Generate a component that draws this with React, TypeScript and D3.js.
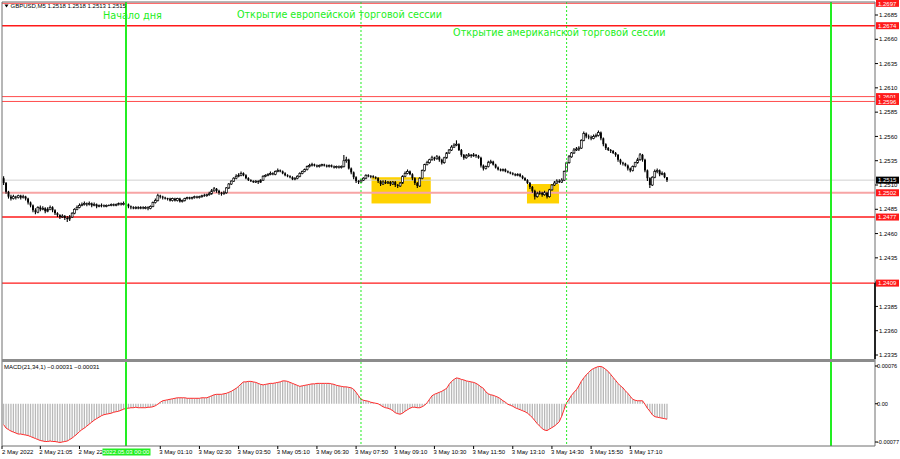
import React from 'react';
import * as d3 from 'd3';

const symbol = 'GBPUSD,M5';
const firstOpen = 1.2517;

const closes = [
  1.2512,1.2503,1.2498,1.2496,1.2498,1.2497,1.2499,1.2497,1.2498,1.2496,
  1.2492,1.2489,1.2484,1.2482,1.2487,1.2485,1.2486,1.2483,1.2485,1.2487,
  1.2484,1.2481,1.2479,1.2477,1.2478,1.2476,1.2475,1.2477,1.2481,1.2485,
  1.2487,1.2489,1.2490,1.2491,1.2490,1.2491,1.2489,1.2490,1.2488,1.2489,
  1.2489,1.2488,1.2489,1.2489,1.2490,1.2489,1.2490,1.2491,1.2490,1.2491,
  1.2490,1.2488,1.2487,1.2486,1.2487,1.2486,1.2487,1.2486,1.2487,1.2486,
  1.2488,1.2492,1.2494,1.2499,1.2498,1.2497,1.2496,1.2496,1.2494,1.2496,
  1.2494,1.2496,1.2493,1.2494,1.2496,1.2497,1.2496,1.2497,1.2498,1.2497,
  1.2498,1.2499,1.2499,1.2500,1.2501,1.2504,1.2506,1.2504,1.2502,1.2501,
  1.2502,1.2507,1.2511,1.2514,1.2517,1.2519,1.2520,1.2522,1.2520,1.2517,
  1.2515,1.2514,1.2513,1.2514,1.2513,1.2515,1.2519,1.2520,1.2521,1.2522,
  1.2521,1.2524,1.2525,1.2524,1.2522,1.2520,1.2519,1.2518,1.2516,1.2517,
  1.2519,1.2522,1.2524,1.2526,1.2529,1.2530,1.2531,1.2530,1.2529,1.2530,
  1.2531,1.2530,1.2529,1.2530,1.2529,1.2528,1.2529,1.2528,1.2529,1.2535,
  1.2536,1.2527,1.2523,1.2518,1.2514,1.2513,1.2515,1.2517,1.2520,1.2519,
  1.2519,1.2518,1.2517,1.2514,1.2511,1.2513,1.2512,1.2513,1.2511,1.2513,
  1.2510,1.2509,1.2512,1.2519,1.2522,1.2524,1.2521,1.2517,1.2512,1.2509,
  1.2517,1.2525,1.2531,1.2533,1.2536,1.2538,1.2537,1.2539,1.2536,1.2533,
  1.2538,1.2543,1.2546,1.2549,1.2551,1.2552,1.2546,1.2541,1.2538,1.2540,
  1.2541,1.2540,1.2541,1.2540,1.2538,1.2530,1.2527,1.2529,1.2533,1.2534,
  1.2531,1.2528,1.2526,1.2525,1.2526,1.2524,1.2523,1.2522,1.2521,1.2520,
  1.2521,1.2519,1.2517,1.2515,1.2512,1.2508,1.2504,1.2498,1.2501,1.2502,
  1.2500,1.2502,1.2498,1.2505,1.2510,1.2512,1.2514,1.2513,1.2515,1.2524,
  1.2533,1.2539,1.2543,1.2546,1.2547,1.2548,1.2556,1.2563,1.2560,1.2559,
  1.2558,1.2560,1.2561,1.2564,1.2558,1.2552,1.2548,1.2546,1.2545,1.2543,
  1.2541,1.2536,1.2533,1.2532,1.2530,1.2527,1.2525,1.2529,1.2533,1.2536,
  1.2541,1.2536,1.2525,1.2517,1.2510,1.2518,1.2524,1.2525,1.2521,1.2522,
  1.2518,1.2515,
];

const highs = [
  1.2519,1.2513,1.2504,1.2500,1.2500,1.2499,1.2500,1.2500,1.2500,1.2499,
  1.2497,1.2493,1.2490,1.2486,1.2488,1.2489,1.2488,1.2487,1.2487,1.2489,
  1.2488,1.2485,1.2482,1.2480,1.2480,1.2479,1.2478,1.2479,1.2482,1.2486,
  1.2489,1.2491,1.2492,1.2493,1.2492,1.2493,1.2492,1.2492,1.2491,1.2490,
  1.2491,1.2490,1.2490,1.2490,1.2491,1.2491,1.2491,1.2492,1.2492,1.2493,
  1.2492,1.2491,1.2489,1.2488,1.2488,1.2488,1.2488,1.2488,1.2488,1.2488,
  1.2489,1.2493,1.2496,1.2501,1.2500,1.2499,1.2498,1.2497,1.2497,1.2497,
  1.2497,1.2497,1.2497,1.2495,1.2497,1.2498,1.2498,1.2498,1.2499,1.2499,
  1.2499,1.2500,1.2501,1.2501,1.2503,1.2506,1.2508,1.2507,1.2505,1.2503,
  1.2504,1.2508,1.2512,1.2515,1.2518,1.2521,1.2522,1.2524,1.2523,1.2521,
  1.2518,1.2516,1.2515,1.2515,1.2515,1.2516,1.2520,1.2521,1.2522,1.2524,
  1.2523,1.2525,1.2527,1.2526,1.2525,1.2523,1.2521,1.2520,1.2519,1.2518,
  1.2520,1.2523,1.2525,1.2527,1.2530,1.2532,1.2533,1.2532,1.2531,1.2531,
  1.2532,1.2532,1.2531,1.2531,1.2531,1.2530,1.2530,1.2530,1.2530,1.2541,
  1.2539,1.2537,1.2528,1.2524,1.2519,1.2515,1.2516,1.2518,1.2521,1.2521,
  1.2520,1.2520,1.2519,1.2518,1.2515,1.2515,1.2515,1.2514,1.2514,1.2514,
  1.2514,1.2511,1.2513,1.2520,1.2524,1.2526,1.2525,1.2522,1.2518,1.2513,
  1.2518,1.2526,1.2532,1.2535,1.2537,1.2540,1.2539,1.2541,1.2540,1.2537,
  1.2539,1.2544,1.2547,1.2551,1.2553,1.2556,1.2553,1.2547,1.2542,1.2542,
  1.2543,1.2542,1.2543,1.2542,1.2541,1.2539,1.2531,1.2530,1.2535,1.2536,
  1.2535,1.2532,1.2529,1.2527,1.2527,1.2527,1.2525,1.2524,1.2523,1.2522,
  1.2522,1.2522,1.2520,1.2518,1.2516,1.2513,1.2509,1.2505,1.2503,1.2504,
  1.2503,1.2504,1.2503,1.2506,1.2511,1.2514,1.2516,1.2516,1.2517,1.2525,
  1.2534,1.2541,1.2544,1.2548,1.2549,1.2550,1.2557,1.2565,1.2564,1.2562,
  1.2561,1.2562,1.2563,1.2566,1.2565,1.2559,1.2553,1.2549,1.2547,1.2546,
  1.2544,1.2542,1.2537,1.2534,1.2533,1.2531,1.2528,1.2530,1.2534,1.2538,
  1.2543,1.2542,1.2537,1.2526,1.2518,1.2519,1.2526,1.2527,1.2526,1.2524,
  1.2523,1.2518,
];

const lows = [
  1.2510,1.2501,1.2496,1.2494,1.2495,1.2495,1.2496,1.2495,1.2496,1.2494,
  1.2490,1.2487,1.2482,1.2480,1.2481,1.2483,1.2484,1.2481,1.2482,1.2484,
  1.2482,1.2479,1.2477,1.2475,1.2476,1.2474,1.2472,1.2473,1.2476,1.2480,
  1.2484,1.2486,1.2488,1.2489,1.2488,1.2489,1.2487,1.2488,1.2486,1.2487,
  1.2487,1.2487,1.2487,1.2488,1.2488,1.2488,1.2488,1.2489,1.2489,1.2489,
  1.2488,1.2486,1.2485,1.2485,1.2485,1.2485,1.2485,1.2485,1.2485,1.2484,
  1.2485,1.2487,1.2491,1.2493,1.2496,1.2495,1.2495,1.2494,1.2493,1.2493,
  1.2493,1.2493,1.2492,1.2492,1.2493,1.2495,1.2495,1.2495,1.2496,1.2496,
  1.2496,1.2497,1.2498,1.2498,1.2499,1.2500,1.2503,1.2502,1.2500,1.2499,
  1.2500,1.2501,1.2506,1.2510,1.2513,1.2516,1.2518,1.2519,1.2519,1.2516,
  1.2514,1.2513,1.2512,1.2512,1.2511,1.2512,1.2514,1.2518,1.2519,1.2520,
  1.2520,1.2520,1.2523,1.2523,1.2521,1.2519,1.2518,1.2517,1.2515,1.2515,
  1.2516,1.2518,1.2521,1.2523,1.2525,1.2528,1.2529,1.2529,1.2528,1.2528,
  1.2529,1.2529,1.2528,1.2528,1.2528,1.2527,1.2527,1.2527,1.2527,1.2528,
  1.2533,1.2526,1.2521,1.2516,1.2512,1.2511,1.2512,1.2514,1.2516,1.2518,
  1.2517,1.2517,1.2516,1.2512,1.2509,1.2510,1.2511,1.2511,1.2509,1.2510,
  1.2508,1.2507,1.2508,1.2511,1.2518,1.2521,1.2520,1.2515,1.2510,1.2507,
  1.2508,1.2516,1.2524,1.2530,1.2532,1.2535,1.2535,1.2536,1.2534,1.2531,
  1.2532,1.2537,1.2542,1.2545,1.2548,1.2550,1.2545,1.2539,1.2536,1.2537,
  1.2539,1.2538,1.2539,1.2538,1.2537,1.2528,1.2525,1.2526,1.2528,1.2532,
  1.2530,1.2527,1.2525,1.2524,1.2524,1.2523,1.2522,1.2521,1.2520,1.2519,
  1.2519,1.2518,1.2516,1.2514,1.2511,1.2506,1.2502,1.2495,1.2497,1.2500,
  1.2498,1.2499,1.2496,1.2497,1.2504,1.2509,1.2511,1.2512,1.2512,1.2514,
  1.2523,1.2532,1.2538,1.2542,1.2545,1.2545,1.2547,1.2555,1.2558,1.2557,
  1.2556,1.2557,1.2559,1.2560,1.2556,1.2550,1.2546,1.2545,1.2543,1.2542,
  1.2539,1.2534,1.2531,1.2530,1.2529,1.2525,1.2523,1.2524,1.2528,1.2532,
  1.2535,1.2534,1.2523,1.2514,1.2507,1.2509,1.2517,1.2522,1.2519,1.2520,
  1.2517,1.2513,
];

const macd = [
  -0.00042,-0.00049,-0.00052,-0.00055,-0.00057,-0.00059,-0.00061,-0.00061,-0.00062,-0.00063,
  -0.00064,-0.00066,-0.00068,-0.00070,-0.00072,-0.00074,-0.00075,-0.00076,-0.00076,-0.00075,
  -0.00076,-0.00076,-0.00077,-0.00078,-0.00077,-0.00076,-0.00075,-0.00072,-0.00069,-0.00065,
  -0.00061,-0.00056,-0.00052,-0.00049,-0.00045,-0.00041,-0.00037,-0.00033,-0.00030,-0.00027,
  -0.00024,-0.00022,-0.00021,-0.00020,-0.00019,-0.00017,-0.00016,-0.00015,-0.00013,-0.00011,
  -0.00009,-0.00009,-0.00008,-0.00008,-0.00007,-0.00008,-0.00008,-0.00008,-0.00008,-0.00007,
  -0.00007,-0.00006,-0.00004,-0.00001,0.00003,0.00006,0.00007,0.00008,0.00009,0.00010,
  0.00011,0.00012,0.00012,0.00012,0.00012,0.00011,0.00011,0.00011,0.00011,0.00011,
  0.00011,0.00012,0.00012,0.00012,0.00014,0.00016,0.00018,0.00019,0.00019,0.00019,
  0.00020,0.00021,0.00023,0.00025,0.00028,0.00031,0.00035,0.00040,0.00044,0.00044,
  0.00045,0.00045,0.00044,0.00043,0.00041,0.00039,0.00038,0.00039,0.00040,0.00041,
  0.00041,0.00042,0.00043,0.00044,0.00046,0.00046,0.00045,0.00043,0.00041,0.00039,
  0.00037,0.00035,0.00036,0.00037,0.00038,0.00039,0.00040,0.00040,0.00041,0.00041,
  0.00041,0.00041,0.00041,0.00041,0.00040,0.00039,0.00037,0.00036,0.00035,0.00034,
  0.00034,0.00033,0.00032,0.00029,0.00023,0.00016,0.00009,0.00007,0.00006,0.00005,
  0.00003,0.00002,0.00001,0.00000,-0.00003,-0.00006,-0.00008,-0.00009,-0.00011,-0.00014,
  -0.00018,-0.00020,-0.00021,-0.00019,-0.00015,-0.00012,-0.00009,-0.00007,-0.00007,-0.00008,
  -0.00008,-0.00006,-0.00003,0.00002,0.00009,0.00016,0.00019,0.00021,0.00023,0.00025,
  0.00028,0.00031,0.00039,0.00045,0.00049,0.00052,0.00051,0.00049,0.00048,0.00046,
  0.00045,0.00044,0.00043,0.00041,0.00038,0.00034,0.00031,0.00024,0.00020,0.00018,
  0.00017,0.00015,0.00013,0.00010,0.00006,0.00003,-0.00001,-0.00003,-0.00005,-0.00008,
  -0.00010,-0.00012,-0.00014,-0.00016,-0.00019,-0.00023,-0.00028,-0.00034,-0.00040,-0.00045,
  -0.00050,-0.00053,-0.00054,-0.00051,-0.00048,-0.00045,-0.00041,-0.00036,-0.00025,-0.00011,
  0.00002,0.00009,0.00017,0.00023,0.00028,0.00036,0.00045,0.00052,0.00058,0.00063,
  0.00068,0.00071,0.00073,0.00075,0.00075,0.00073,0.00069,0.00065,0.00059,0.00053,
  0.00047,0.00041,0.00036,0.00032,0.00026,0.00021,0.00015,0.00009,0.00007,0.00006,
  0.00006,0.00006,-0.00001,-0.00009,-0.00015,-0.00022,-0.00026,-0.00027,-0.00028,-0.00029,
  -0.00030,-0.00031,
];

const priceTicks = [1.2685,1.2660,1.2635,1.2610,1.2585,1.2560,1.2535,1.2510,1.2485,1.2460,1.2435,1.2410,1.2385,1.2360,1.2335];
const levels = [1.2697,1.2674,1.2601,1.2596,1.2502,1.2477,1.2409];
const bidPrice = 1.2515;
const macdTicks = ['0.00076','0.00','-0.00077'];
const macdTickValues = [0.00076,0,-0.00077];
const timeTickIdx = [-1,15,31,64,80,96,112,128,144,160,176,192,208,224,240,256];
const timeTickText = ['2 May 2022','2 May 21:05','2 May 22:25','3 May 01:10','3 May 02:30','3 May 03:50','3 May 05:10','3 May 06:30','3 May 07:50','3 May 09:10','3 May 10:30','3 May 11:50','3 May 13:10','3 May 14:30','3 May 15:50','3 May 17:10'];
const cursorIdx = 50;
const cursorText = '2022.05.03 00:00';
// session markers: bar index (5-min bars from 2 May 19:50)
const dayStartIdx = [50,338];
const sessionIdx = [146,230];
const sessionText = ['Начало дня','Открытие европейской торговой сессии','Открытие американской торговой сессии'];
// highlighted zones: [fromBar, toBar, topPrice, bottomPrice]
const zones = [
  [150.3,174.5,1.2518,1.2491],
  [213.8,226.9,1.2511,1.2491],
];

const SMALL = "'Liberation Sans', Arial, sans-serif";
const BIG = "'DejaVu Sans', Verdana, sans-serif";
const GREEN = '#22ee22';

export default function App() {
  const W = 900, H = 459;
  const L = 2, R = 875, T = 2, MB = 359, MT = 362, BB = 446;
  const x = d3.scaleLinear().domain([0, 338]).range([3.6, 831]);
  const y = d3.scaleLinear().domain([1.2335, 1.2685]).range([355, 15]);
  const ym = d3.scaleLinear().domain([-0.00077, 0.00076]).range([442, 366]);
  const opens = closes.map((c, i) => (i === 0 ? firstOpen : closes[i - 1]));
  const f4 = d3.format('.4f');
  const f5 = d3.format('.5f');
  const n = closes.length;
  const macdPath = d3.line<number>().x((_, i) => x(i)).y((v) => ym(v))(macd) || '';
  const last = n - 1;
  const header = `${symbol}  ${f4(opens[last])} ${f4(highs[last])} ${f4(lows[last])} ${f4(closes[last])}`;
  const macdHeader = `MACD(21,34,1) ${f5(macd[last])} ${f5(macd[last])}`;
  const boxLeft = x(cursorIdx) - 23.5;

  const levelStyle = (p: number) => {
    if (p === 1.2502) return { stroke: '#f7a5a5', w: 2 };
    if (p === 1.2674 || p === 1.2477 || p === 1.2409) return { stroke: '#ff1a1a', w: 1.4 };
    return { stroke: '#ff4d4d', w: 1 };
  };

  return (
    <svg width={W} height={H} style={{ position: 'fixed', left: 0, top: 0, background: '#fff' }}>
      <rect x={0} y={0} width={W} height={H} fill="#fff" />
      <defs>
        <clipPath id="main"><rect x={L} y={T} width={R - L} height={MB - T} /></clipPath>
        <clipPath id="sub"><rect x={L} y={MT} width={R - L} height={BB - MT} /></clipPath>
        <clipPath id="tlab"><rect x={0} y={446} width={boxLeft} height={13} /></clipPath>
      </defs>

      {/* main window */}
      <g clipPath="url(#main)">
        {zones.map((z, k) => (
          <rect key={k} x={x(z[0])} y={y(z[2])} width={x(z[1]) - x(z[0])} height={y(z[3]) - y(z[2])} fill="#ffd200" />
        ))}
        {levels.map((p) => {
          const s = levelStyle(p);
          return <line key={p} x1={L} x2={R} y1={y(p)} y2={y(p)} stroke={s.stroke} strokeWidth={s.w} />;
        })}
        <line x1={L} x2={R} y1={y(bidPrice)} y2={y(bidPrice)} stroke="#d0d0d0" strokeWidth={1} />
        {closes.map((c, i) => {
          const o = opens[i];
          const cx = x(i);
          const top = y(Math.max(o, c));
          const bot = y(Math.min(o, c));
          const bull = c > o;
          return (
            <g key={i}>
              <line x1={cx} x2={cx} y1={y(highs[i])} y2={y(lows[i])} stroke="#000" strokeWidth={1.1} />
              {Math.abs(bot - top) < 0.8 ? (
                <line x1={cx - 1} x2={cx + 1} y1={top} y2={top} stroke="#000" strokeWidth={0.9} />
              ) : (
                <rect x={cx - 0.95} y={top} width={1.9} height={bot - top} fill={bull ? '#fff' : '#000'} stroke="#000" strokeWidth={bull ? 0.7 : 0} />
              )}
            </g>
          );
        })}
        {dayStartIdx.map((i) => (
          <line key={i} x1={x(i)} x2={x(i)} y1={T} y2={MB} stroke={GREEN} strokeWidth={2} />
        ))}
        {sessionIdx.map((i) => (
          <line key={i} x1={x(i)} x2={x(i)} y1={T} y2={MB} stroke={GREEN} strokeWidth={1} strokeDasharray="2,2" />
        ))}
        <text x={x(dayStartIdx[0]) - 23} y={19} fontFamily={BIG} fontSize={9.7} fill={GREEN}>{sessionText[0]}</text>
        <text x={x(sessionIdx[0]) - 124} y={17.5} fontFamily={BIG} fontSize={9.6} fill={GREEN}>{sessionText[1]}</text>
        <text x={x(sessionIdx[1]) - 113.5} y={35.5} fontFamily={BIG} fontSize={9.6} fill={GREEN}>{sessionText[2]}</text>
        <path d="M4.5,4.5 L8.5,4.5 L6.5,7.5 Z" fill="#000" />
        <text x={10.5} y={8.2} fontFamily={SMALL} fontSize={6} fill="#000">{header}</text>
      </g>

      {/* macd window */}
      <g clipPath="url(#sub)">
        {macd.map((v, i) => (
          <line key={i} x1={x(i)} x2={x(i)} y1={ym(0)} y2={ym(v)} stroke="#b8b8b8" strokeWidth={1.3} />
        ))}
        <path d={macdPath} fill="none" stroke="#ff2a2a" strokeWidth={1} />
        {dayStartIdx.map((i) => (
          <line key={i} x1={x(i)} x2={x(i)} y1={MT} y2={BB} stroke={GREEN} strokeWidth={2} />
        ))}
        {sessionIdx.map((i) => (
          <line key={i} x1={x(i)} x2={x(i)} y1={MT} y2={BB} stroke={GREEN} strokeWidth={1} strokeDasharray="2,2" />
        ))}
        <text x={4} y={368.5} fontFamily={SMALL} fontSize={6} fill="#000">{macdHeader}</text>
      </g>

      {/* frames */}
      <line x1={L} x2={L} y1={T} y2={BB} stroke="#6e6e6e" strokeWidth={1} />
      <line x1={L} x2={R} y1={T} y2={T} stroke="#6e6e6e" strokeWidth={1} />
      <line x1={R} x2={R} y1={T} y2={BB} stroke="#6e6e6e" strokeWidth={1} />
      <line x1={R} x2={R} y1={y(1.2409)} y2={MB} stroke="#000" strokeWidth={1.6} />
      <rect x={L} y={MB} width={R - L} height={3} fill="#8c8c8c" />
      <line x1={L} x2={R} y1={BB} y2={BB} stroke="#6e6e6e" strokeWidth={1} />

      {/* price axis */}
      {priceTicks.map((p) => (
        <g key={p}>
          <line x1={R} x2={R + 3} y1={y(p)} y2={y(p)} stroke="#000" strokeWidth={1} />
          <text x={879} y={y(p) + 2.2} fontFamily={SMALL} fontSize={6} fill="#000">{f4(p)}</text>
        </g>
      ))}
      <g>
        <rect x={876} y={y(bidPrice) - 3.5} width={23} height={7} fill="#000" />
        <text x={878} y={y(bidPrice) + 2.2} fontFamily={SMALL} fontSize={6} fill="#fff">{f4(bidPrice)}</text>
      </g>
      {levels.map((p) => (
        <g key={p}>
          <rect x={876} y={y(p) - 3.5} width={23} height={7} fill="#ff1a1a" />
          <text x={878} y={y(p) + 2.2} fontFamily={SMALL} fontSize={6} fill="#fff">{f4(p)}</text>
        </g>
      ))}

      {/* macd axis */}
      {macdTickValues.map((v, k) => (
        <g key={k}>
          <line x1={R} x2={R + 3} y1={ym(v)} y2={ym(v)} stroke="#000" strokeWidth={1} />
          <text x={877} y={ym(v) + 2.2} fontFamily={SMALL} fontSize={5.6} fill="#000">{macdTicks[k]}</text>
        </g>
      ))}

      {/* time axis */}
      {timeTickIdx.map((i, k) => {
        const tx = Math.max(x(i) - 1, 2);
        const cut = tx < boxLeft && tx + 34 > boxLeft;
        return (
          <g key={k}>
            <line x1={Math.max(x(i), L)} x2={Math.max(x(i), L)} y1={BB} y2={BB + 3} stroke="#000" strokeWidth={1} />
            <text x={tx} y={454} fontFamily={SMALL} fontSize={6} fill="#000" clipPath={cut ? 'url(#tlab)' : undefined}>{timeTickText[k]}</text>
          </g>
        );
      })}
      <rect x={boxLeft} y={448.5} width={48} height={7} fill={GREEN} />
      <text x={x(cursorIdx)} y={454} textAnchor="middle" fontFamily={SMALL} fontSize={6} fill="#fff">{cursorText}</text>
    </svg>
  );
}
